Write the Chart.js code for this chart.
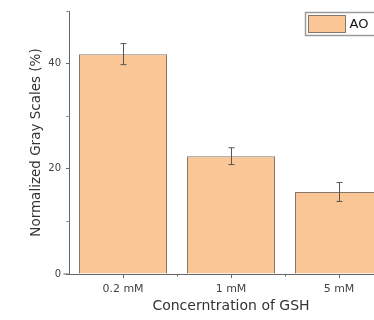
<!DOCTYPE html>
<html><head><meta charset="utf-8">
<script src="https://cdn.jsdelivr.net/npm/chart.js@4"></script>
<style>html,body{margin:0;padding:0;overflow:hidden;background:#fff;width:374px;height:320px}
#wrap{width:400px;height:320px}</style></head>
<body><div id="wrap"><canvas id="c" width="400" height="320"></canvas></div>
<script>
const categories = ['0.2 mM', '1 mM', '5 mM'];
const seriesName = 'AO';
const values = [41.8, 22.4, 15.6];
const errors = [2.0, 1.6, 1.8];
const yMajorTicks = [0, 20, 40];
const yMinorTicks = [10, 30, 50];
const yMax = 50;

const AXIS = '#666';
const FILL = 'rgb(250,198,150)';
const EDGE = '#857669';
const FONT = '"DejaVu Sans", Verdana, sans-serif';

const errPlugin = {
  id: 'err',
  afterDatasetsDraw(chart) {
    const ctx = chart.ctx, x = chart.scales.x, y = chart.scales.y;
    ctx.save();
    ctx.strokeStyle = '#555'; ctx.lineWidth = 1;
    values.forEach((v, i) => {
      const cx = Math.round(x.getPixelForValue(i)) + 0.5;
      const t = y.getPixelForValue(v + errors[i]), b = y.getPixelForValue(v - errors[i]);
      ctx.beginPath();
      ctx.moveTo(cx, t); ctx.lineTo(cx, b);
      ctx.moveTo(cx - 3, t); ctx.lineTo(cx + 3, t);
      ctx.moveTo(cx - 3, b); ctx.lineTo(cx + 3, b);
      ctx.stroke();
    });
    // minor ticks
    const ax = Math.round(x.left) - 0.5, ay = Math.round(y.bottom) + 0.5;
    ctx.strokeStyle = AXIS;
    yMinorTicks.forEach(v => {
      const py = Math.round(y.getPixelForValue(v)) + 0.5;
      ctx.beginPath(); ctx.moveTo(ax - 2, py); ctx.lineTo(ax, py); ctx.stroke();
    });
    for (let i = 0; i < categories.length; i++) {
      const px = Math.round(x.getPixelForValue(i + 0.5)) + 0.5;
      ctx.beginPath(); ctx.moveTo(px, ay); ctx.lineTo(px, ay + 2); ctx.stroke();
    }
    // x axis stub left of the y axis
    ctx.beginPath(); ctx.moveTo(ax - 5, ay - 0.5); ctx.lineTo(ax, ay - 0.5); ctx.stroke();
    // legend
    const lx = 305.5, ly = 12.5;
    ctx.fillStyle = '#fff';
    ctx.strokeStyle = '#9a9a9a';
    ctx.lineWidth = 1.5;
    ctx.fillRect(lx, ly, 120, 23);
    ctx.strokeRect(lx, ly, 120, 23);
    ctx.lineWidth = 1;
    ctx.fillStyle = FILL; ctx.strokeStyle = EDGE;
    ctx.fillRect(lx + 3, ly + 3, 37, 17);
    ctx.strokeRect(lx + 3, ly + 3, 37, 17);
    ctx.fillStyle = '#111';
    ctx.font = '13px ' + FONT;
    ctx.textBaseline = 'middle';
    ctx.fillText(seriesName, lx + 44, ly + 12);
    ctx.restore();
  }
};

new Chart(document.getElementById('c'), {
  type: 'bar',
  data: {
    labels: categories,
    datasets: [{
      label: seriesName,
      data: values,
      backgroundColor: FILL,
      borderColor: EDGE,
      borderWidth: 1,
      categoryPercentage: 1,
      barPercentage: 0.815
    }]
  },
  options: {
    responsive: false,
    animation: false,
    devicePixelRatio: 1,
    layout: { padding: { left: 28, right: 7, top: 11, bottom: 0 } },
    plugins: { legend: { display: false }, tooltip: { enabled: false } },
    scales: {
      x: {
        offset: true,
        border: { color: AXIS, width: 1 },
        grid: { display: true, drawOnChartArea: false, tickLength: 4, color: AXIS, offset: false, drawTicks: true },
        ticks: { color: '#444', font: { family: FONT, size: 11 }, padding: 5, maxRotation: 0 },
        title: { display: true, text: 'Concerntration of GSH', color: '#333', font: { family: FONT, size: 14 }, padding: { top: 4, bottom: 5 } },
        afterFit(s) { s.height = 46; }
      },
      y: {
        min: 0, max: yMax,
        border: { color: AXIS, width: 1 },
        grid: { display: true, drawOnChartArea: false, tickLength: 3, color: AXIS },
        afterBuildTicks(s) { s.ticks = yMajorTicks.map(v => ({ value: v })); },
        ticks: { color: '#444', font: { family: FONT, size: 10 }, padding: 5 },
        title: { display: true, text: 'Normalized Gray Scales (%)', color: '#333', font: { family: FONT, size: 13.5 }, padding: { top: 0, bottom: 0 } },
        afterFit(s) { s.width = 41; }
      }
    }
  },
  plugins: [errPlugin]
});
</script></body></html>
